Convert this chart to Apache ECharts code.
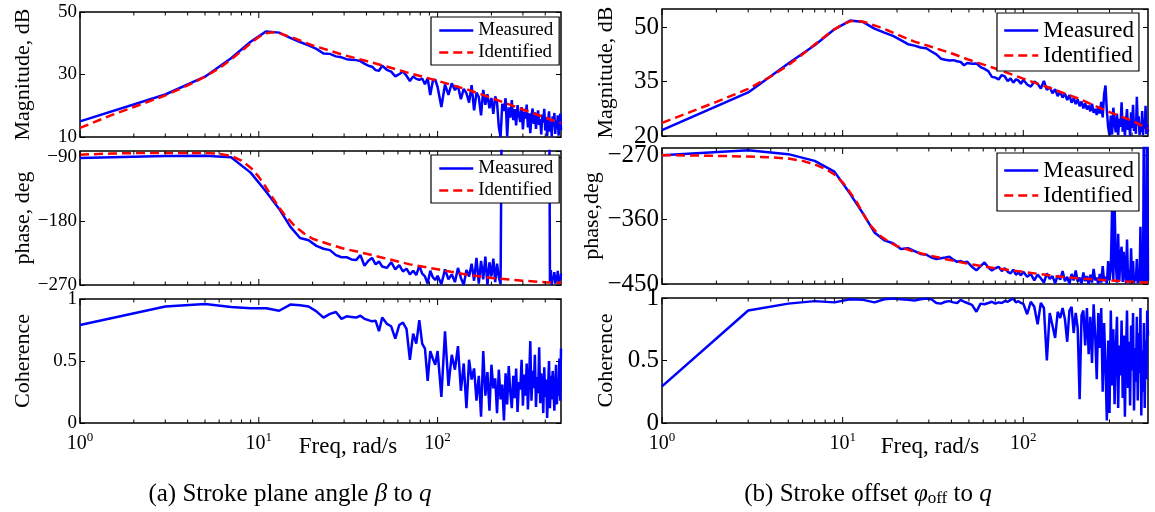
<!DOCTYPE html>
<html><head><meta charset="utf-8">
<script src="https://cdn.jsdelivr.net/npm/echarts@6/dist/echarts.min.js"></script>
<style>html,body{margin:0;padding:0;background:#fff}#c{width:1155px;height:512px}</style>
</head><body><div id="c"></div>
<script>
// Measured frequency grid (rad/s)
const F = [1,3,5,7,9,11,13,15,17,19,21,23,25,27,29,31,33,35,37,39,41,43,45,47,49,
52,55,58,61,64,67,70,73,76,79,82,85,88,91,94,97,100,
105,110,115,120,125,130,135,140,145,150,155,160,165,170,175,180,185,190,195,200,
205,210,215,220,225,230,235,240,245,250,255,260,265,270,275,280,285,290,295,300,
305,310,315,320,325,330,335,340,345,350,355,360,365,370,375,380,385,390,395,400,
405,410,415,420,425,430,435,440,445,450,455,460,465,470,475,480,485,490];
// Identified model frequency grid
const FI = [1,1.5,2,3,4,5,6,7,8,9,10,11,12,13,14,16,18,20,25,30,40,50,70,100,150,200,300,400,490];
// Minor/major x tick positions
const TICKS = [1,2,3,4,5,6,7,8,9,10,20,30,40,50,60,70,80,90,100,200,300,400];

// (a) Stroke plane angle beta to q
const MAG_A_MEAS = [15.0,23.6,29.3,35.2,40.5,43.8,43.4,41.7,40.4,39.3,38.2,36.7,36.6,35.8,35.5,34.9,34.7,34.6,34.3,33.5,32.8,32.5,31.4,31.2,32.8,
31.5,30.9,29.4,30.1,31.0,29.6,27.9,29.4,28.6,28.3,28.7,26.9,28.8,23.4,27.9,28.4,26.0,
19.6,26.8,23.5,27.2,25.0,26.3,22.1,25.4,24.0,21.0,
26.6,18.5,24.2,22.8,16.9,25.1,20.3,23.7,19.2,22.5,
17.4,23.0,21.1,13.2,10.0,20.6,18.3,22.4,10.2,19.5,
16.2,21.8,15.4,18.9,13.7,20.2,17.1,14.8,19.6,12.4,
18.1,15.9,20.4,13.1,17.6,11.2,16.8,19.1,14.2,17.9,
12.6,16.3,18.5,13.9,15.7,10.8,17.2,14.6,19.0,12.1,
16.4,10.3,15.1,18.2,11.7,14.9,10.1,16.6,13.3,17.7,
11.0,15.3,12.8,16.9,10.4,14.1,17.5,12.2];
const MAG_A_IDENT = [12.9,17.0,19.6,23.3,26.5,29.3,32.0,34.8,37.5,40.0,42.0,43.2,43.5,43.2,42.6,41.5,40.3,39.3,37.6,36.2,34.3,32.8,30.4,28.0,25.0,22.5,18.8,16.2,14.4];
const PHASE_A_MEAS = [-91.4,-88.5,-88.3,-90.3,-112,-139,-163,-188,-204,-207,-215,-219,-221,-228,-231,-231,-234,-235,-228,-243,-236,-232,-241,-237,-244,
-246,-238,-248,-242,-251,-247,-255,-250,-256,-243,-254,-258,-268,-250,-259,-263,-257,
-269,-248,-262,-255,-266,-246,-260,-270,-249,-258,-240,-264,-232,-268,-236,-262,-230,-270,-238,-258,-233,-266,-240,-259,-269,
96,101,88,104,92,99,85,107,94,90,103,87,98,110,93,86,102,97,89,105,91,100,84,108,95,99,87,103,92,96,106,89,101,94,98,86,104,93,100,
-266,-249,-270,-258,-262,-252,-268,-256,-264,-250,-269,-259,-263,-254];
const PHASE_A_IDENT = [-86.7,-85.2,-84.6,-84.3,-84.3,-84.4,-85.5,-88.5,-95,-105,-118,-133,-148,-161,-172,-188,-198,-205,-213,-219,-226,-232,-241,-248,-256,-260,-264,-266,-267];
const COH_A = [0.79,0.94,0.96,0.935,0.925,0.925,0.905,0.955,0.95,0.94,0.90,0.85,0.88,0.895,0.84,0.86,0.855,0.85,0.865,0.84,0.83,0.82,0.825,0.74,0.85,
0.80,0.78,0.68,0.79,0.81,0.76,0.51,0.72,0.64,0.83,0.64,0.60,0.34,0.58,0.52,0.47,0.58,
0.21,0.74,0.30,0.55,0.43,0.62,0.26,0.48,0.12,0.51,
0.35,0.44,0.18,0.38,0.05,0.58,0.22,0.41,0.10,0.47,
0.28,0.36,0.08,0.43,0.19,0.31,0.02,0.40,0.15,0.46,
0.25,0.12,0.38,0.20,0.44,0.09,0.33,0.27,0.51,0.14,
0.39,0.22,0.48,0.11,0.36,0.66,0.18,0.42,0.28,0.55,
0.13,0.37,0.24,0.61,0.16,0.40,0.30,0.08,0.45,0.21,
0.35,0.04,0.29,0.50,0.12,0.38,0.19,0.42,0.26,0.10,
0.33,0.47,0.15,0.36,0.22,0.52,0.18,0.60];

// (b) Stroke offset phi_off to q
const MAG_B_MEAS = [21.6,32.0,40.0,45.0,49.4,51.8,51.4,49.6,48.5,47.6,46.4,45.3,44.9,44.4,44.2,43.3,42.5,41.3,41.0,40.8,40.9,40.6,40.4,39.5,40.1,
39.9,40.0,39.0,38.5,37.9,36.3,36.1,35.6,36.8,36.4,35.1,35.9,34.7,35.6,35.3,34.4,35.5,
34.2,33.6,35.0,34.4,33.1,35.2,32.7,33.5,31.8,32.9,
31.0,32.2,30.6,31.7,29.9,31.3,29.2,30.4,28.8,30.1,
28.2,29.5,27.6,29.0,27.3,28.4,26.8,28.9,26.4,27.5,
25.8,28.1,26.2,29.4,25.1,31.5,33.9,27.0,22.3,20.2,
25.6,20.4,27.8,23.4,21.0,26.1,20.3,24.7,22.5,29.3,
21.2,25.0,20.1,23.8,27.4,21.7,24.3,20.0,26.5,22.2,
28.6,21.4,24.0,20.6,30.8,22.9,25.4,20.3,23.6,21.1,
26.9,20.2,24.4,22.0,28.3,20.5,23.1,21.3];
const MAG_B_IDENT = [23.6,27.0,29.4,33.0,36.4,39.5,42.5,45.2,47.5,49.4,50.8,51.6,51.8,51.5,51.0,50.0,49.0,48.0,46.0,44.8,42.8,41.0,38.6,35.8,32.7,30.4,26.6,24.2,22.0];
const PHASE_B_MEAS = [-270,-263,-268.6,-278,-293,-324,-352,-378,-389,-393,-401,-400,-404,-408,-409,-413,-415,-414,-413,-412,-416,-419,-418,-420,-419,
-426,-431,-425,-420,-427,-431,-428,-426,-432,-428,-433,-435,-430,-437,-434,-438,-433,
-440,-436,-445,-437,-442,-448,-435,-443,-439,-449,
-438,-444,-432,-446,-440,-450,-436,-445,-431,-447,
-441,-450,-434,-446,-439,-450,-437,-448,-429,-445,
-441,-450,-436,-448,-425,-446,-440,-450,-418,-445,
-430,-345,-445,-336,-420,-448,-380,-446,-410,-398,
-447,-405,-435,-449,-388,-446,-430,-449,-400,-445,
-418,-449,-437,-446,-415,-449,-432,-447,-370,-446,
-438,-449,-200,-447,-420,-449,-200,-445];
const PHASE_B_IDENT = [-270,-270.5,-271,-272,-273,-274.7,-278,-283,-289,-297,-308,-322,-336,-352,-366,-382,-391,-397,-405,-410,-417,-422,-428,-433,-439,-442,-445,-447,-448];
const COH_B = [0.293,0.90,0.955,0.975,0.965,0.99,0.985,0.965,0.99,0.995,0.99,0.985,0.98,0.99,0.995,0.99,0.96,0.955,0.97,0.975,0.965,0.96,0.985,0.97,0.96,
0.945,0.89,0.955,0.95,0.96,0.97,0.955,0.965,0.96,0.975,0.97,0.985,0.995,0.965,0.975,0.96,0.955,
0.87,0.97,0.93,0.79,0.96,0.92,0.50,0.88,0.78,0.68,
0.89,0.84,0.92,0.83,0.65,0.90,0.93,0.72,0.88,0.76,
0.19,0.86,0.90,0.62,0.92,0.55,0.85,0.48,0.95,0.70,
0.35,0.88,0.60,0.92,0.25,0.80,0.45,0.02,0.66,0.08,
0.90,0.30,0.75,0.15,0.58,0.85,0.12,0.62,0.38,0.82,
0.20,0.70,0.05,0.55,0.90,0.28,0.65,0.14,0.78,0.42,
0.88,0.10,0.60,0.33,0.85,0.18,0.72,0.40,0.92,0.06,
0.58,0.25,0.80,0.12,0.66,0.35,0.90,0.70];

const FONT = '"Liberation Serif","Times New Roman",serif';
const BLUE = '#0000ff', RED = '#ff0000';
const zip = (xs, ys) => xs.map((x, i) => [x, ys[i]]);

const grids = [
  {left: 80, top: 12, width: 481, height: 125},
  {left: 80, top: 151, width: 481, height: 134},
  {left: 80, top: 299, width: 481, height: 124},
  {left: 662, top: 9, width: 486, height: 127},
  {left: 662, top: 148, width: 486, height: 136},
  {left: 662, top: 298, width: 486, height: 125}
];
const yr = [[10, 50, 20], [-270, -81.6, 90], [0, 1, 0.5], [20, 55, 15], [-450, -260, 90], [0, 1, 0.5]];
const showMax = [true, false, true, false, false, true];
const yNames = ['Magnitude, dB', 'phase, deg', 'Coherence', 'Magnitude, dB', 'phase,deg', 'Coherence'];
const labSize = [19, 19, 19, 25, 25, 25];

const xAxis = grids.map((g, i) => ({
  gridIndex: i, type: 'log', logBase: 10, min: 1, max: 490,
  axisLine: {show: false}, axisTick: {show: false}, splitLine: {show: false},
  axisLabel: {
    show: i === 2 || i === 5, margin: 8, showMaxLabel: false,
    formatter: v => { const e = Math.log10(v); return Math.abs(e - Math.round(e)) < 1e-6 ? '{b|10}{s|' + Math.round(e) + '}' : ''; },
    rich: {b: {fontFamily: FONT, fontSize: 20, color: '#000'}, s: {fontFamily: FONT, fontSize: 13, color: '#000', padding: [0, 0, 12, 0]}}
  }
}));

const yAxis = [];
grids.forEach((g, i) => {
  const base = {gridIndex: i, type: 'value', min: yr[i][0], max: yr[i][1], interval: yr[i][2],
    axisLine: {show: false}, splitLine: {show: false},
    axisTick: {show: true, inside: true, length: 5, lineStyle: {color: '#000', width: 1}}};
  yAxis.push(Object.assign({}, base, {
    position: 'left',
    axisLabel: {margin: 3, showMaxLabel: showMax[i], fontFamily: FONT, fontSize: labSize[i], color: '#000',
      formatter: v => String(v).replace('-', '\u2212')},
    name: yNames[i], nameLocation: 'middle', nameGap: i < 3 ? 46 : 45,
    nameTextStyle: {fontFamily: FONT, fontSize: 22, color: '#000'}
  }));
  yAxis.push(Object.assign({}, base, {position: 'right', axisLabel: {show: false}}));
});

const series = [];
const lineMeas = (i, xs, ys, name) => ({name, type: 'line', xAxisIndex: i, yAxisIndex: 2 * i, data: zip(xs, ys),
  symbol: 'none', animation: false, lineStyle: {color: BLUE, width: 2.5}, itemStyle: {color: BLUE}, z: 3});
const lineIdent = (i, xs, ys) => ({name: 'Identified', type: 'line', xAxisIndex: i, yAxisIndex: 2 * i, data: zip(xs, ys),
  symbol: 'none', animation: false, lineStyle: {color: RED, width: 2.5, type: [9, 5]}, itemStyle: {color: RED}, z: 4});

series.push(lineMeas(0, F, MAG_A_MEAS, 'Measured'), lineIdent(0, FI, MAG_A_IDENT));
series.push(lineMeas(1, F, PHASE_A_MEAS, 'Measured'), lineIdent(1, FI, PHASE_A_IDENT));
series.push(lineMeas(2, F, COH_A, 'Coherence (a)'));
series.push(lineMeas(3, F, MAG_B_MEAS, 'Measured'), lineIdent(3, FI, MAG_B_IDENT));
series.push(lineMeas(4, F, PHASE_B_MEAS, 'Measured'), lineIdent(4, FI, PHASE_B_IDENT));
series.push(lineMeas(5, F, COH_B, 'Coherence (b)'));

grids.forEach((g, i) => {
  series.push({
    type: 'custom', xAxisIndex: i, yAxisIndex: 2 * i, silent: true, animation: false, z: 6, clip: false,
    data: TICKS.map(t => [t, yr[i][0]]),
    renderItem: (params, api) => {
      const f = api.value(0);
      const pb = api.coord([f, yr[i][0]]);
      const pt = api.coord([f, yr[i][1]]);
      const e = Math.log10(f);
      const L = Math.abs(e - Math.round(e)) < 1e-6 ? 6 : 3.5;
      return {type: 'group', children: [
        {type: 'line', shape: {x1: pb[0], y1: pb[1], x2: pb[0], y2: pb[1] - L}, style: {stroke: '#000', lineWidth: 1}},
        {type: 'line', shape: {x1: pt[0], y1: pt[1], x2: pt[0], y2: pt[1] + L}, style: {stroke: '#000', lineWidth: 1}}
      ]};
    }
  });
});

const legBase = {orient: 'vertical', data: ['Measured', 'Identified'], borderColor: '#000', borderWidth: 1.2,
  backgroundColor: '#fff', itemWidth: 34, itemHeight: 12, selectedMode: false, z: 10,
  itemStyle: {opacity: 0}, lineStyle: {width: 2.5}};
const legend = [
  Object.assign({}, legBase, {left: 431, top: 17, padding: [4, 6, 3, 7], itemGap: 3, textStyle: {fontFamily: FONT, fontSize: 19, color: '#000'}}),
  Object.assign({}, legBase, {left: 431, top: 155, padding: [4, 6, 3, 7], itemGap: 3, textStyle: {fontFamily: FONT, fontSize: 19, color: '#000'}}),
  Object.assign({}, legBase, {left: 997, top: 13, padding: [6, 5, 4, 6], itemGap: 2, textStyle: {fontFamily: FONT, fontSize: 23, color: '#000'}}),
  Object.assign({}, legBase, {left: 997, top: 153, padding: [6, 5, 4, 6], itemGap: 2, textStyle: {fontFamily: FONT, fontSize: 23, color: '#000'}})
];

const txt = (x, y, text, size, rich) => ({type: 'text', x, y, silent: true, z: 20,
  style: {text, fontFamily: FONT, fontSize: size, fill: '#000', align: 'center', verticalAlign: 'middle', rich}});
const capRich = {
  it: {fontFamily: FONT, fontSize: 25, fontStyle: 'italic', fill: '#000'},
  sub: {fontFamily: FONT, fontSize: 17, fill: '#000', padding: [10, 0, 0, 0]}
};
const graphic = [
  txt(348, 447, 'Freq, rad/s', 23),
  txt(930, 447, 'Freq, rad/s', 23),
  txt(290, 494, '(a) Stroke plane angle {it|\u03b2} to {it|q}', 25, capRich),
  txt(868, 494, '(b) Stroke offset {it|\u03c6}{sub|off} to {it|q}', 25, capRich)
];

const chart = echarts.init(document.getElementById('c'));
chart.setOption({
  animation: false, backgroundColor: '#fff',
  grid: grids.map(g => Object.assign({show: true, borderColor: '#000', borderWidth: 1.5, backgroundColor: 'transparent'}, g)),
  xAxis, yAxis, series, legend, graphic
});
</script></body></html>
